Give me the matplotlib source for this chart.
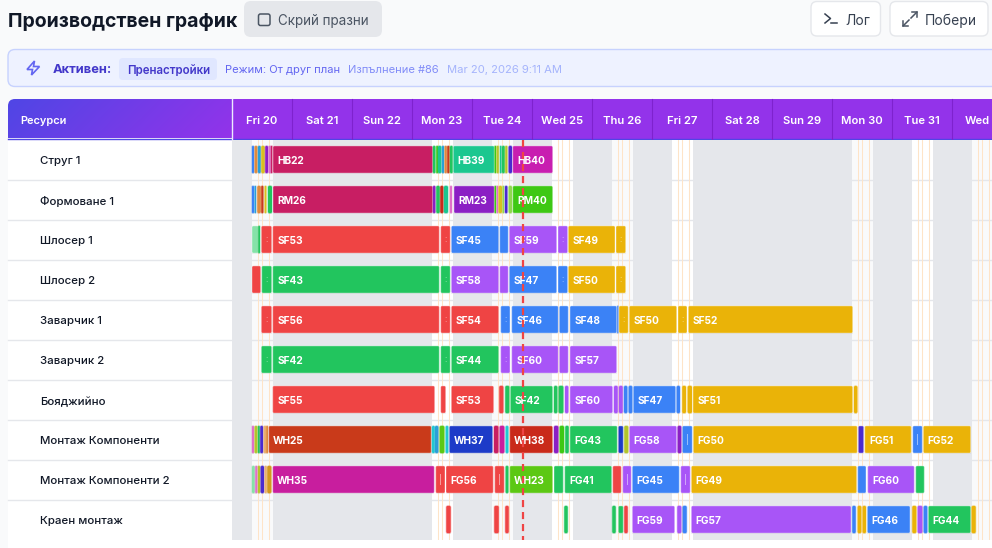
import numpy as np
import matplotlib
matplotlib.use("Agg")
import matplotlib.pyplot as plt
from matplotlib.patches import Rectangle, FancyBboxPatch, BoxStyle, Polygon
from matplotlib.colors import LinearSegmentedColormap, to_rgb

plt.rcParams['font.family'] = ['Inter', 'DejaVu Sans']

resources = ["Струг 1", "Формоване 1", "Шлосер 1", "Шлосер 2", "Заварчик 1", "Заварчик 2",
             "Бояджийно", "Монтаж Компоненти", "Монтаж Компоненти 2", "Краен монтаж"]
days = ["Fri 20", "Sat 21", "Sun 22", "Mon 23", "Tue 24", "Wed 25", "Thu 26",
        "Fri 27", "Sat 28", "Sun 29", "Mon 30", "Tue 31", "Wed"]

# time axis: slots of 24 min counted from Fri 20 00:00 (60 slots a day)
working_days = [0, 3, 4, 5, 6, 7, 10, 11, 12]
now_slot = 291

# (start, end, colour, label) for every resource
strug = [(20, 22, 'blue'), (22.7, 25.3, 'orange'), (26, 28.7, 'sky'), (29.3, 32.7, 'yellow'),
         (33.3, 36, 'violet'), (36.7, 38.7, 'pink'), (39, 40.3, 'crimson'),
         (41, 200.7, 'crimson', 'HB22'),
         (201, 203.3, 'green'), (204.3, 206, 'lime'), (206, 209.3, 'teal'), (210, 212, 'sky'),
         (212.7, 214.7, 'orange'), (215.3, 217.3, 'rust'), (218, 220.7, 'green'),
         (221.3, 262.3, 'teal', 'HB39'),
         (262.7, 264, 'lime'), (264.7, 266.7, 'olive'), (268, 269.3, 'teal'), (270, 272.7, 'green'),
         (273.3, 275.3, 'olive'), (276.7, 280, 'indigo'),
         (280.7, 320.7, 'magenta', 'HB40')]

forming = [(20, 22, 'blue'), (22.7, 24, 'sky'), (25.3, 28.7, 'orange'), (29.3, 31.3, 'rust'),
           (32.7, 34.3, 'yellow'), (36, 40, 'green'),
           (41, 200.7, 'crimson', 'RM26'),
           (201, 203.3, 'violet'), (204.3, 207.7, 'green'), (208.3, 211.3, 'scarlet'), (212, 216, 'teal'),
           (218, 220, 'pink'),
           (222, 262.3, 'violet', 'RM23'),
           (262.7, 264, 'lime'), (264.7, 266, 'pink'), (266.7, 270, 'yellow'), (270.7, 272, 'paleleaf'),
           (273, 275.3, 'indigo'), (276.7, 280, 'paleleaf'),
           (280.7, 320.7, 'lime', 'RM40')]

fitter1 = [(20, 26.3, 'palegreen'), (26.3, 28, 'green'), (29.3, 39.7, 'red', ':'),
           (40.7, 207.3, 'red', 'SF53'), (208.7, 218.3, 'red', ':'),
           (219.3, 266.7, 'blue', 'SF45'), (267.7, 276.3, 'blue'),
           (277.3, 324.7, 'purple', 'SF59'), (326, 335.7, 'purple', ':'),
           (336.3, 383, 'amber', 'SF49'), (384, 393.7, 'amber', ':')]

fitter2 = [(20, 28.7, 'red'), (29.7, 39.7, 'green', ':'),
           (40.7, 207.3, 'green', 'SF43'), (208.7, 218.3, 'green', ':'),
           (219.3, 266.7, 'purple', 'SF58'), (267.7, 276.3, 'purple'),
           (277.3, 324.7, 'blue', 'SF47'), (326, 335.7, 'blue', ':'),
           (336.3, 383, 'amber', 'SF50'), (384, 393.7, 'amber', ':')]

welder1 = [(29.3, 39.7, 'red', ':'), (40.7, 207.3, 'red', 'SF56'), (208.7, 218.3, 'red', ':'),
           (219.3, 266.7, 'red', 'SF54'), (268.7, 278, 'blue', ':'),
           (279.7, 326.3, 'blue', 'SF46'), (327.3, 336.3, 'blue'),
           (338, 384.7, 'blue', 'SF48'), (385.3, 386.3, 'blue'), (387, 396.3, 'amber', ':'),
           (397.3, 444.7, 'amber', 'SF50'), (446, 455, 'amber', ':'),
           (456.3, 620.7, 'amber', 'SF52')]

welder2 = [(29.3, 39.7, 'green', ':'), (40.7, 207.3, 'green', 'SF42'), (208.7, 218.3, 'green', ':'),
           (219.3, 266.7, 'green', 'SF44'), (268.7, 278, 'purple', ':'),
           (279.7, 326.3, 'purple', 'SF60'), (327.3, 336.3, 'purple'),
           (338, 384.7, 'purple', 'SF57')]

paint = [(40.7, 202.7, 'red', 'SF55'), (208.7, 213.7, 'red'), (219.3, 261.7, 'red', 'SF53'),
         (267.3, 271.3, 'red'), (273.3, 277.3, 'green'), (278.3, 320.7, 'green', 'SF42'),
         (322, 325.3, 'green'), (326.7, 331.3, 'green'), (333, 336.3, 'purple'),
         (338, 380.7, 'purple', 'SF60'), (382, 385.7, 'purple'), (387, 390.7, 'purple'),
         (392, 395.3, 'blue'), (396.7, 400.3, 'blue'), (401.3, 443.7, 'blue', 'SF47'),
         (444.7, 448, 'blue'), (450.3, 454, 'amber'), (455.7, 460, 'amber'),
         (461, 620.7, 'amber', 'SF51'), (622, 625.3, 'amber')]

assembly1 = [(20, 22, 'pink'), (22.7, 25.3, 'olive'), (26, 27.7, 'green'), (28.3, 31, 'indigo'),
             (31.7, 34.3, 'paleorange'), (34.3, 36, 'orange'),
             (36.7, 199.3, 'rust', 'WH25'),
             (200, 202.7, 'cyan'), (203, 206.3, 'sky'), (207.7, 212.3, 'leaf'), (213.7, 216.3, 'cyan'),
             (217.3, 260.7, 'navy', 'WH37'),
             (262, 266.3, 'crimson'), (267.7, 272.3, 'fuchsia'), (273.7, 276.3, 'cyan'),
             (277.7, 320.7, 'scarlet', 'WH38'),
             (322, 326.3, 'violet'), (327.7, 332, 'lime'), (333.3, 336.7, 'green'),
             (338, 385.3, 'green', 'FG43'),
             (386.3, 391.3, 'navy'), (392.3, 396.3, 'olive'),
             (397.3, 444.7, 'purple', 'FG58'), (445.7, 449.3, 'violet'), (450.3, 460.3, 'blue', '|'),
             (461.3, 625.3, 'amber', 'FG50'), (626.3, 631.7, 'indigo'),
             (632.7, 679.3, 'amber', 'FG51'), (680.7, 690.3, 'blue', '|'),
             (691.3, 738.7, 'amber', 'FG52')]

assembly2 = [(20, 22.7, 'palegreen'), (23.3, 25.3, 'pink'), (26, 28, 'olive'), (28.7, 32, 'indigo'),
             (32.7, 34.7, 'paleorange'), (35.3, 39.3, 'ochre'),
             (40.7, 202.3, 'fuchsia', 'WH35'),
             (203.7, 213, 'red', '|'), (214, 261.3, 'red', 'FG56'), (262.7, 272.3, 'red', '|'),
             (273.7, 276.3, 'green'), (277.7, 320.7, 'leaf', 'WH23'),
             (322, 331.3, 'green'), (332.7, 379.7, 'green', 'FG41'),
             (380.7, 389.3, 'red'), (390.7, 399.3, 'purple', '|'),
             (400.3, 447.3, 'blue', 'FG45'), (448.7, 458.3, 'purple', '|'),
             (459.3, 624.7, 'amber', 'FG49'), (625.7, 634, 'blue'),
             (635.7, 682.3, 'purple', 'FG60'), (683.7, 692.3, 'green')]

final = [(214.3, 218.7, 'red'), (262.3, 266.7, 'red'), (273.3, 276.7, 'red'),
         (332.3, 335.7, 'green'), (380.3, 383.7, 'green'), (386.3, 391.3, 'green'), (392.3, 395.7, 'red'),
         (400.3, 442.7, 'purple', 'FG59'), (445.3, 449.3, 'purple'), (450.7, 454.7, 'blue'),
         (459.3, 619, 'purple', 'FG57'), (620.3, 623.7, 'blue'), (625.7, 629.3, 'amber'),
         (630.7, 634, 'amber'), (635.3, 678, 'blue', 'FG46'), (680.3, 684.3, 'amber'),
         (685.7, 690.3, 'purple'), (691.7, 695.3, 'blue'), (696.3, 738.7, 'green', 'FG44'),
         (739.7, 743.7, 'amber')]

schedule = [strug, forming, fitter1, fitter2, welder1, welder2, paint, assembly1, assembly2, final]

colors = {'red': '#ef4444', 'green': '#22c55e', 'blue': '#3b82f6', 'purple': '#a855f7', 'amber': '#eab308',
          'palegreen': '#86e2a8', 'crimson': '#c81e63', 'teal': '#1bc78f', 'magenta': '#c81eb0',
          'violet': '#8b1fc4', 'lime': '#3ec814', 'rust': '#c93a1a', 'navy': '#1d3bc8', 'scarlet': '#c92a1a',
          'fuchsia': '#c81e9e', 'leaf': '#5cc814', 'orange': '#e08a3c', 'sky': '#2a9fd8', 'cyan': '#22c8d0',
          'ochre': '#d4981e', 'olive': '#b4c42a', 'indigo': '#4a2ad0', 'pink': '#e070c8', 'yellow': '#d8c020',
          'paleorange': '#eab070', 'paleleaf': '#90d850'}

INK = '#111827'

fig = plt.figure(figsize=(9.92, 5.48), dpi=100, facecolor='#f9fafb')

# page furniture in pixel coordinates
ui = fig.add_axes([0, 0, 1, 1])
ui.set_xlim(0, 992)
ui.set_ylim(548, 0)
ui.axis('off')


def box(x0, y0, x1, y1, fc, ec='none', r=6, lw=1, z=1):
    p = FancyBboxPatch((x0, y0), x1 - x0, y1 - y0, boxstyle=BoxStyle("Round", pad=0, rounding_size=r),
                       fc=fc, ec=ec, lw=lw, zorder=z)
    ui.add_patch(p)
    return p


ui.text(8, 20, "Производствен график", fontsize=14, fontweight='bold', color=INK, va='center_baseline')
box(244, 1, 382, 37, '#e5e7eb', r=7)
box(258.5, 14, 270, 25.5, 'none', ec='#4b5563', r=2, lw=1.1, z=2)
ui.text(278, 19.5, "Скрий празни", fontsize=9.7, color='#4b5563', va='center_baseline')

box(811, 1.5, 880.5, 36, 'white', ec='#e5e7eb', r=6)
ui.plot([825, 830.5, 825], [14, 18.5, 23], color='#374151', lw=1.1)
ui.plot([831, 837], [23, 23], color='#374151', lw=1.1)
ui.text(845, 19.5, "Лог", fontsize=10, color='#374151', va='center_baseline')

box(890, 1.5, 988, 36, 'white', ec='#e5e7eb', r=6)
for x0, y0, x1, y1, hx, hy in [(911, 18, 917, 12, -1, 1), (909, 20, 903, 26, 1, -1)]:
    ui.plot([x0, x1], [y0, y1], color='#4b5563', lw=1.1)
    ui.plot([x1 + hx * 5, x1, x1], [y1, y1, y1 + hy * 5], color='#4b5563', lw=1.1)
ui.text(925, 19.5, "Побери", fontsize=10, color='#374151', va='center_baseline')

# active plan banner
box(8, 49.5, 1010, 86.5, '#eef2ff', ec='#c7d2fe', r=7)
ui.add_patch(Polygon([(34.5, 61), (27, 69.5), (32.5, 69.5), (31.5, 75), (39.5, 66.5), (33.5, 66.5)],
                     closed=True, fc='none', ec='#6366f1', lw=1.2, zorder=2))
ui.text(53, 68.5, "Активен:", fontsize=9.3, fontweight='bold', color='#4338ca', va='center_baseline')
box(119, 58, 217, 80, '#e0e7ff', r=4, z=2)
ui.text(127.5, 69, "Пренастройки", fontsize=8.3, fontweight='semibold', color='#4338ca', va='center_baseline', zorder=3)
ui.text(225, 69, "Режим: От друг план", fontsize=8, color='#6366f1', va='center_baseline')
ui.text(347.5, 69, "Изпълнение #86", fontsize=8, color='#818cf8', va='center_baseline')
ui.text(447, 69, "Mar 20, 2026 9:11 AM", fontsize=8.1, color='#a5b4fc', va='center_baseline')

# header, the resource cell carries a gradient
ui.add_patch(Rectangle((8, 139), 224, 401, fc='white', ec='none', zorder=1))
ui.add_patch(Rectangle((0, 540), 992, 8, fc='white', ec='none', zorder=1))
ui.add_patch(Rectangle((0, 540), 8, 8, fc='#f9fafb', ec='none', zorder=1))
ui.add_patch(Rectangle((232, 99), 760, 39.5, fc='#9333ea', ec='none', zorder=1))
cmap = LinearSegmentedColormap.from_list('head', ['#4f46e5', '#9333ea'])
gx, gy = np.meshgrid(np.linspace(0, 1, 230), np.linspace(0, 1, 40))
grad = ui.imshow(gx * 0.85 + gy * 0.15, extent=(8, 232, 138.5, 99), cmap=cmap, vmin=0, vmax=1, aspect='auto', zorder=1)
grad.set_clip_path(FancyBboxPatch((8, 99), 240, 50, boxstyle=BoxStyle("Round", pad=0, rounding_size=7),
                                  transform=ui.transData))
ui.set_xlim(0, 992)
ui.set_ylim(548, 0)
ui.plot([8, 992], [138.7, 138.7], color='#4f46e5', lw=1, zorder=2)
ui.plot([231.6, 231.6], [99, 139], color='#ede9fe', lw=1, zorder=3)
ui.text(20, 119.5, "Ресурси", fontsize=7.9, fontweight='semibold', color='white', va='center_baseline', zorder=3)
for i, day in enumerate(days):
    if i > 0:
        ui.plot([231.7 + i * 60] * 2, [99, 138.5], color='#7e22ce', lw=0.8, zorder=2)
    # the last column runs off the page, only its start is visible
    if i == len(days) - 1:
        ui.text(232 + i * 60 + 13, 119.5, day, fontsize=8.1, fontweight='semibold', color='white',
                va='center_baseline', zorder=3)
    else:
        ui.text(232 + i * 60 + 30, 119.5, day, fontsize=8.1, fontweight='semibold', color='white',
                ha='center', va='center_baseline', zorder=3)

for i, name in enumerate(resources):
    ui.text(40, 160.5 + i * 40, name, fontsize=8.25, fontweight='medium', color=INK, va='center_baseline', zorder=3)
    if i < len(resources) - 1:
        ui.plot([8, 232], [179.5 + i * 40] * 2, color='#e5e7eb', lw=1, zorder=2)

# the gantt itself
ax = fig.add_axes([232 / 992, (548 - 539.5) / 548, 760 / 992, 400 / 548])
ax.set_xlim(0, 760)
ax.set_ylim(9.5, -0.5)
ax.axis('off')

ax.add_patch(Rectangle((0, -0.5), 760, 10, fc='#e5e7eb', ec='none', zorder=0))
for n, d in enumerate(working_days):
    start = d * 60 + 20
    ax.add_patch(Rectangle((start, -0.5), 21, 10, fc='white' if n % 2 else '#f9fafb', ec='none', zorder=1))
    for b in [5.7, 10.3, 17.3]:
        ax.plot([start + b] * 2, [-0.5, 9.5], color='#fee4c8', lw=0.75, zorder=2)
    for r in range(9):
        ax.plot([start, start + 21], [r + 0.5] * 2, color='#e5e7eb', lw=1, zorder=1.5)

BAR_H = 0.68
for row, tasks in enumerate(schedule):
    for task in tasks:
        start, end, col = task[:3]
        label = task[3] if len(task) > 3 else None
        w = end - start
        fc = to_rgb(colors[col])
        # thin changeovers bleed a pale tint of their own colour, longer bars get a whitish rim
        rim = fc + (0.4,) if w < 5 else (1, 1, 1, 0.28)
        ax.add_patch(Rectangle((start, row + BAR_H / 2), w, 0.03, fc='#111827', alpha=0.06, ec='none', zorder=3))
        ax.add_patch(FancyBboxPatch((start, row - BAR_H / 2), w, BAR_H,
                                    boxstyle=BoxStyle("Round", pad=0, rounding_size=min(1.5, w / 2)),
                                    mutation_aspect=1 / 40, fc=fc, ec=rim, lw=0.9, zorder=3))
        if label in (':', '|'):
            ax.text(start + w / 2, row, label, fontsize=6, color='white', alpha=0.75,
                    ha='center', va='center', zorder=4)
        elif label:
            ax.text(start + 4.5, row + 0.01, label, fontsize=7.3, fontweight='bold', color='white',
                    va='center_baseline', zorder=4)

ax.plot([now_slot, now_slot], [-0.5, 9.5], color='#ef4444', lw=1.6, dashes=(3.2, 2.2), zorder=5)

fig.savefig("out.png", dpi=100, facecolor=fig.get_facecolor())
